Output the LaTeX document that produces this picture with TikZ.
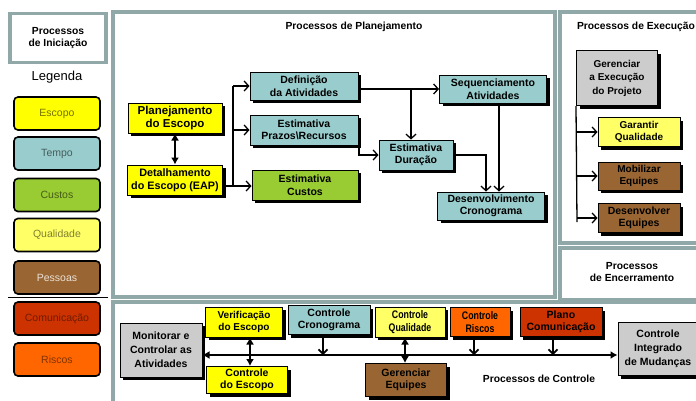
\documentclass[tikz,border=0pt]{standalone}
\usepackage{fontspec}
\setmainfont{Liberation Sans}
\newfontfamily\narrowsf[FakeStretch=0.8]{Liberation Sans}
\usetikzlibrary{arrows.meta}
\usetikzlibrary{positioning}
\usetikzlibrary{shadows}
\definecolor{escopo}{HTML}{FFFF00}
\definecolor{tempo}{HTML}{99CCCC}
\definecolor{custos}{HTML}{99CC33}
\definecolor{qualidade}{HTML}{FFFF66}
\definecolor{pessoas}{HTML}{996633}
\definecolor{comunicacao}{HTML}{CC3300}
\definecolor{riscos}{HTML}{FF6600}
\definecolor{cinza}{HTML}{CCCCCC}
\definecolor{moldura}{HTML}{90A8A8}
\tikzset{proc/.style = {draw, line width=1, align=center, inner sep=1, font=\bfseries\fontsize{10.5}{12.5}\selectfont, drop shadow={shadow xshift=3pt, shadow yshift=-3pt, fill=black, opacity=1}}}
\tikzset{legbox/.style = {draw, line width=1.6, rounded corners=4, minimum width=86, minimum height=33, font=\fontsize{10.5}{12}\selectfont}}
\tikzset{frame/.style = {draw=moldura, line width=4}}
\tikzset{titulo/.style = {font=\bfseries\fontsize{10.3}{12.5}\selectfont, align=center}}
\tikzset{seta/.style = {line width=1.3, -{Straight Barb[length=4.5pt, width=10pt]}}}
\tikzset{setav/.style = {line width=1.7, -{Straight Barb[length=4.5pt, width=9pt]}}}
\tikzset{dupla/.style = {line width=1.3, {Latex[length=7pt, width=8pt]}-{Latex[length=7pt, width=8pt]}}}

\begin{document}
\begin{tikzpicture}[x=1pt, y=-1pt]
            \useasboundingbox (0,0) rectangle (696,400);
            % molduras
            \draw [frame, line width=3.5] (10,13.5) rectangle (106,62.5);
            \draw [frame] (112.5,12) rectangle (554.5,297);
            \draw [frame] (559.5,12) rectangle (712,243);
            \draw [frame] (559.5,247.5) rectangle (712,299.5);
            \draw [frame] (112.5,302) rectangle (712,412);
            \node [titulo] (tini) at (58,38) {Processos\\de Iniciação};
            \node [titulo] (tplan) at (354,27) {Processos de Planejamento};
            \node [titulo] (texec) at (636,27) {Processos de Execução};
            \node [titulo] (tenc) at (632,272) {Processos\\de Encerramento};
            \node [titulo] (tctrl) at (539,379) {Processos de Controle};
            % legenda
            \node [font=\fontsize{13}{15}\selectfont] (tleg) at (57,77) {Legenda};
            \node [legbox, fill=escopo, text=escopo!45!black] (lesc) at (57,113.5) {Escopo};
            \node [legbox, fill=tempo, text=tempo!45!black] (ltem) at (57,153.5) {Tempo};
            \node [legbox, fill=custos, text=custos!45!black] (lcus) at (57,195) {Custos};
            \node [legbox, fill=qualidade, text=qualidade!50!black] (lqua) at (57,235) {Qualidade};
            \node [legbox, fill=pessoas, text=pessoas!20!white] (lpes) at (57,277.5) {Pessoas};
            \node [legbox, fill=comunicacao, text=comunicacao!55!black] (lcom) at (57,318.5) {Comunicação};
            \node [legbox, fill=riscos, text=riscos!50!black] (lris) at (57,359.5) {Riscos};
            \draw [line width=0.8] (8,297) -- (108,297);
            % planejamento
            \node [proc, fill=escopo, minimum width=94, minimum height=30, font=\bfseries\fontsize{11.5}{13}\selectfont] (plesc) at (175,118) {Planejamento\\do Escopo};
            \node [proc, fill=escopo, minimum width=95, minimum height=30, font=\bfseries\fontsize{10.8}{13}\selectfont] (detesc) at (175,180) {Detalhamento\\do Escopo (EAP)};
            \node [proc, fill=tempo, minimum width=108, minimum height=28] (defativ) at (304,86) {Definição\\da Atividades};
            \node [proc, fill=tempo, minimum width=108, minimum height=30] (estprazo) at (304,130) {Estimativa\\Prazos\textbackslash Recursos};
            \node [proc, fill=custos, minimum width=106, minimum height=30] (estcusto) at (305,185) {Estimativa\\Custos};
            \node [proc, fill=tempo, minimum width=74, minimum height=30] (estdur) at (416,155) {Estimativa\\Duração};
            \node [proc, fill=tempo, minimum width=107, minimum height=28] (seqativ) at (493,89) {Sequenciamento\\Atividades};
            \node [proc, fill=tempo, minimum width=107, minimum height=28] (descron) at (491,206) {Desenvolvimento\\Cronograma};
            \draw [dupla] (plesc.south) -- (detesc.north);
            \coordinate (pbus) at (233,186);
            \draw [line width=1.3] (pbus) -- (pbus |- defativ.west);
            \draw [seta] (pbus |- defativ.west) -- (defativ.west);
            \draw [seta] (pbus |- estprazo.west) -- (estprazo.west);
            \draw [seta] (detesc.east |- pbus) -- (estcusto.west |- pbus);
            \draw [seta] (defativ.east |- seqativ.west) -- (seqativ.west);
            \coordinate (dsplit) at (411,89);
            \draw [seta] (dsplit) -- (dsplit |- estdur.north);
            \coordinate (pjunc) at (359,130);
            \draw [seta] (pjunc) |- (estdur.west);
            \draw [seta] (estdur.east) -| ([xshift=-5pt]descron.north);
            \draw [seta] ([xshift=6pt]seqativ.south) -- ([xshift=6pt]seqativ.south |- descron.north);
            % execucao
            \node [proc, fill=cinza, minimum width=81, minimum height=55, font=\bfseries\fontsize{10}{13.5}\selectfont] (gerexec) at (617,78) {Gerenciar\\a Execução\\do Projeto};
            \node [proc, fill=qualidade, minimum width=82, minimum height=29, font=\bfseries\fontsize{10}{12.5}\selectfont] (garqual) at (639,132) {Garantir\\Qualidade};
            \node [proc, fill=pessoas, minimum width=82, minimum height=28, font=\bfseries\fontsize{10}{12.5}\selectfont] (mobeq) at (639,176) {Mobilizar\\Equipes};
            \node [proc, fill=pessoas, minimum width=82, minimum height=29, font=\bfseries\fontsize{10.5}{12.5}\selectfont] (deseq) at (639,218) {Desenvolver\\Equipes};
            \coordinate (ebus) at (577,222);
            \draw [line width=1.3] (gerexec.south west) -- (ebus);
            \draw [seta] (ebus |- garqual.west) -- (garqual.west);
            \draw [seta] (ebus |- mobeq.west) -- (mobeq.west);
            \draw [seta] (ebus |- deseq.west) -- (deseq.west);
            % controle
            \node [proc, fill=cinza, minimum width=82, minimum height=54, font=\bfseries\fontsize{10.5}{14}\selectfont] (monitor) at (161,350) {Monitorar e\\Controlar as\\Atividades};
            \node [proc, fill=escopo, minimum width=77, minimum height=30, font=\bfseries\fontsize{10}{12.5}\selectfont] (verif) at (244,322) {Verificação\\do Escopo};
            \node [proc, fill=tempo, minimum width=82, minimum height=29] (ctrlcron) at (329,320) {Controle\\Cronograma};
            \node [proc, fill=qualidade, minimum width=70, minimum height=30, font=\narrowsf\bfseries\fontsize{11}{13}\selectfont] (ctrlqual) at (410,322) {Controle\\Qualidade};
            \node [proc, fill=riscos, minimum width=60, minimum height=29, font=\narrowsf\bfseries\fontsize{11}{13}\selectfont] (ctrlrisc) at (480,322) {Controle\\Riscos};
            \node [proc, fill=comunicacao, minimum width=82, minimum height=29] (plancom) at (561,322) {Plano\\Comunicação};
            \node [proc, fill=cinza, minimum width=80, minimum height=53, font=\bfseries\fontsize{10.5}{14}\selectfont] (ctrlint) at (658,349) {Controle\\Integrado\\de Mudanças};
            \node [proc, fill=escopo, minimum width=81, minimum height=27, font=\bfseries\fontsize{10.5}{12.5}\selectfont] (ctrlesc) at (247,380) {Controle\\do Escopo};
            \node [proc, fill=pessoas, minimum width=81, minimum height=33] (gereq) at (406,380) {Gerenciar\\Equipes};
            \coordinate (cbus) at (0,355);
            \draw [dupla] (monitor.east |- cbus) -- (ctrlint.west |- cbus);
            \draw [dupla] ([xshift=6pt]verif.south) -- ([xshift=6pt]verif.south |- ctrlesc.north);
            \draw [dupla] ([xshift=-5pt]ctrlqual.south) -- ([xshift=-5pt]ctrlqual.south |- gereq.north);
            \draw [setav] ([xshift=-6pt]ctrlcron.south) -- ([xshift=-6pt]ctrlcron.south |- cbus);
            \draw [setav] ([xshift=-6pt]ctrlrisc.south) -- ([xshift=-6pt]ctrlrisc.south |- cbus);
            \draw [setav] ([xshift=-8pt]plancom.south) -- ([xshift=-8pt]plancom.south |- cbus);
\end{tikzpicture}
\end{document}
